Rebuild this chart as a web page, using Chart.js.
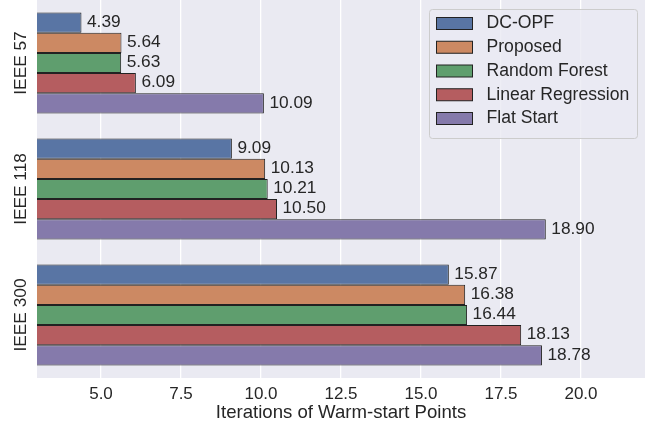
<!DOCTYPE html>
<html><head><meta charset="utf-8">
<script src="https://cdn.jsdelivr.net/npm/chart.js@4.4.1/dist/chart.umd.min.js"></script>
<style>html,body{margin:0;padding:0;background:#fff}#wrap{width:649px;height:426px}</style>
</head><body><div id="wrap"><canvas id="c" width="649" height="426"></canvas></div>
<script>
const categories = ["IEEE 57", "IEEE 118", "IEEE 300"];
const seriesNames = ["DC-OPF", "Proposed", "Random Forest", "Linear Regression", "Flat Start"];
const dcopf = [4.39, 9.09, 15.87];
const proposed = [5.64, 10.13, 16.38];
const randomForest = [5.63, 10.21, 16.44];
const linearRegression = [6.09, 10.50, 18.13];
const flatStart = [10.09, 18.90, 18.78];
const xTicks = [5.0, 7.5, 10.0, 12.5, 15.0, 17.5, 20.0];
const xMin = 3, xMax = 22;
const axisTitle = "Iterations of Warm-start Points";

const colors = ["#5975a4", "#cc8963", "#5f9e6e", "#b55d60", "#857aab"];
const seriesValues = [dcopf, proposed, randomForest, linearRegression, flatStart];
const FONT = "'Liberation Sans', Arial, sans-serif";
const TXT = "#262626";

Chart.defaults.font.family = FONT;
Chart.defaults.color = TXT;

const bgPlugin = {
  id: 'bg',
  beforeDraw(chart) {
    const {ctx, chartArea: a} = chart;
    ctx.save();
    ctx.fillStyle = '#ffffff';
    ctx.fillRect(0, 0, chart.width, chart.height);
    ctx.fillStyle = '#eaeaf2';
    ctx.fillRect(a.left, a.top, a.right - a.left, a.bottom - a.top);
    ctx.restore();
  }
};

const labelsPlugin = {
  id: 'vals',
  afterDatasetsDraw(chart) {
    const ctx = chart.ctx;
    ctx.save();
    ctx.font = "17.3px " + FONT;
    ctx.fillStyle = TXT;
    ctx.textBaseline = 'middle';
    ctx.textAlign = 'left';
    chart.data.datasets.forEach((ds, di) => {
      const meta = chart.getDatasetMeta(di);
      meta.data.forEach((bar, i) => {
        ctx.fillText(ds.data[i].toFixed(2), bar.x + 5.5, bar.y - 0.5);
      });
    });
    // category labels (rotated)
    const ys = chart.scales.y;
    ctx.textAlign = 'center';
    categories.forEach((c, i) => {
      const y = ys.getPixelForValue(i);
      ctx.save();
      ctx.translate(21, y);
      ctx.rotate(-Math.PI / 2);
      ctx.fillText(c, 0, 0);
      ctx.restore();
    });
    // legend
    const lx = 429.5, ly = 9.5, lw = 208, lh = 129;
    ctx.beginPath();
    ctx.roundRect(lx, ly, lw, lh, 3);
    ctx.fillStyle = 'rgba(234,234,242,0.8)';
    ctx.fill();
    ctx.strokeStyle = '#cccccc';
    ctx.lineWidth = 1;
    ctx.stroke();
    ctx.font = "17.6px " + FONT;
    chart.data.datasets.forEach((ds, di) => {
      const cy = 23.5 + di * 23.75;
      ctx.fillStyle = ds.backgroundColor;
      ctx.fillRect(436.5, cy - 6, 36, 12);
      ctx.strokeStyle = '#222';
      ctx.strokeRect(436.5, cy - 6, 36, 12);
      ctx.fillStyle = TXT;
      ctx.textAlign = 'left';
      ctx.fillText(ds.label, 486.5, cy);
    });
    ctx.restore();
  }
};

new Chart(document.getElementById('c'), {
  type: 'bar',
  data: {
    labels: categories,
    datasets: seriesNames.map((n, i) => ({
      label: n,
      data: seriesValues[i],
      backgroundColor: colors[i],
      borderColor: '#222222',
      borderWidth: 1,
      borderSkipped: false,
      barPercentage: 1.0,
      categoryPercentage: 0.8
    }))
  },
  options: {
    indexAxis: 'y',
    responsive: false,
    animation: false,
    devicePixelRatio: 1,
    layout: { padding: { left: 0, right: 4, top: 0, bottom: 0 } },
    plugins: { legend: { display: false }, tooltip: { enabled: false } },
    scales: {
      y: {
        type: 'category',
        offset: true,
        grid: { display: false },
        border: { display: false },
        ticks: { display: false },
        afterFit(s) { s.width = 37; }
      },
      x: {
        type: 'linear',
        min: xMin, max: xMax,
        afterBuildTicks(s) { s.ticks = xTicks.map(v => ({ value: v })); },
        grid: { color: '#ffffff', lineWidth: 1.3, drawTicks: false },
        border: { display: false },
        ticks: {
          padding: 6,
          font: { size: 17 },
          color: TXT,
          callback: v => Number(v).toFixed(1)
        },
        title: {
          display: true,
          text: axisTitle,
          font: { size: 18.6 },
          color: TXT,
          padding: { top: 0, bottom: 2 }
        },
        afterFit(s) { s.height = 48; }
      }
    }
  },
  plugins: [bgPlugin, labelsPlugin]
});
</script></body></html>
